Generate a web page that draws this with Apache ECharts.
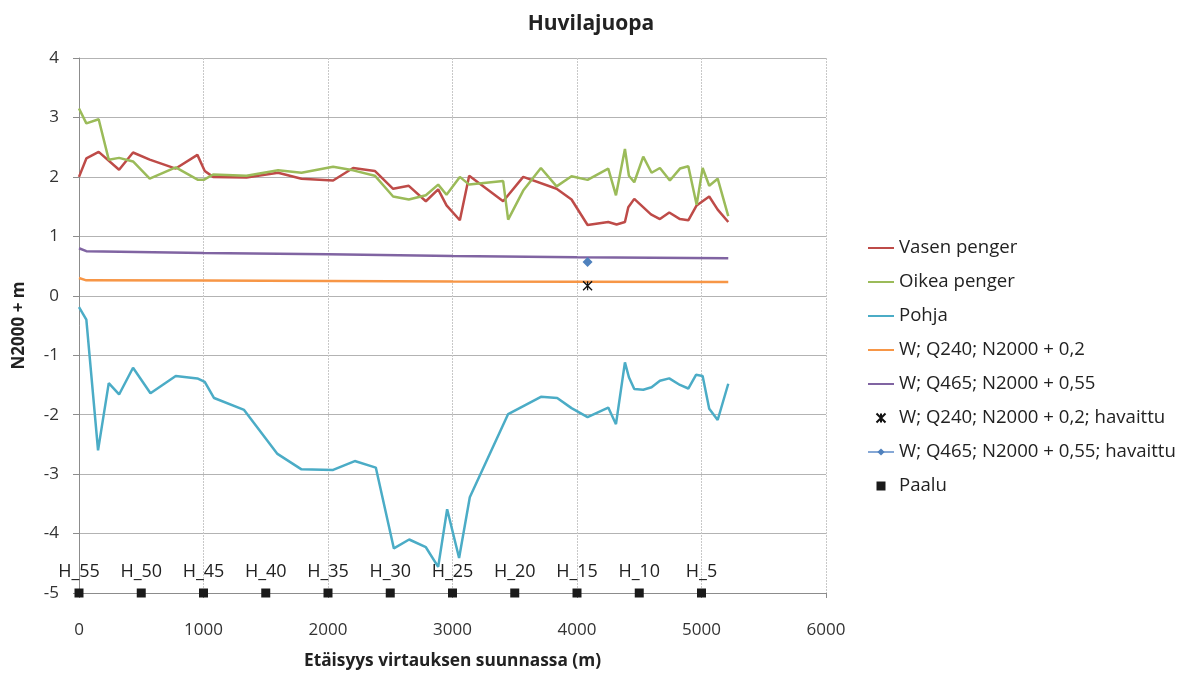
<!DOCTYPE html>
<html>
<head>
<meta charset="utf-8">
<script src="https://cdn.jsdelivr.net/npm/echarts@6/dist/echarts.min.js"></script>
<style>
  html, body { margin: 0; padding: 0; background: #fff; }
  #chart { width: 1182px; height: 673px; }
</style>
</head>
<body>
<div id="chart"></div>
<script>
// Left bank (Vasen penger): distance along flow (m) and crest level (N2000 + m)
const vasenDist = [0,59,158,322,434,568,777,951,1010,1077,1345,1599,1787,2041,2202,2376,2523,2649,2786,2885,2952,3059,3134,3407,3568,3836,3956,4085,4251,4318,4385,4412,4460,4594,4666,4741,4827,4894,4961,5062,5130,5215];
const vasenElev = [2.00,2.31,2.42,2.12,2.41,2.29,2.14,2.37,2.10,2.00,1.99,2.07,1.97,1.94,2.15,2.10,1.80,1.85,1.59,1.79,1.52,1.27,2.02,1.59,2.00,1.80,1.62,1.19,1.24,1.20,1.24,1.49,1.63,1.37,1.29,1.40,1.29,1.27,1.52,1.67,1.45,1.24];

// Right bank (Oikea penger)
const oikeaDist = [0,59,158,239,322,434,568,777,956,1002,1077,1345,1599,1787,2041,2202,2376,2523,2649,2786,2885,2952,3059,3134,3407,3447,3568,3710,3836,3956,4085,4251,4313,4385,4417,4460,4532,4599,4666,4746,4827,4894,4961,5009,5062,5130,5215];
const oikeaElev = [3.15,2.90,2.97,2.29,2.32,2.26,1.97,2.16,1.95,1.95,2.04,2.02,2.11,2.07,2.17,2.11,2.02,1.67,1.62,1.69,1.87,1.70,2.00,1.87,1.93,1.28,1.77,2.15,1.84,2.01,1.95,2.14,1.69,2.47,2.02,1.91,2.34,2.07,2.15,1.94,2.14,2.18,1.53,2.15,1.85,1.97,1.34];

// Channel bed (Pohja)
const pohjaDist = [0,59,153,239,322,434,574,777,951,1010,1085,1326,1594,1787,2041,2215,2384,2529,2652,2786,2885,2957,3053,3139,3447,3710,3841,3956,4085,4251,4313,4385,4417,4460,4532,4599,4666,4741,4827,4894,4956,5009,5062,5130,5215];
const pohjaElev = [-0.19,-0.40,-2.60,-1.47,-1.66,-1.21,-1.64,-1.35,-1.39,-1.45,-1.72,-1.92,-2.66,-2.92,-2.93,-2.78,-2.89,-4.25,-4.10,-4.23,-4.56,-3.59,-4.41,-3.39,-1.99,-1.70,-1.72,-1.89,-2.04,-1.88,-2.16,-1.12,-1.37,-1.57,-1.58,-1.54,-1.43,-1.39,-1.50,-1.56,-1.33,-1.35,-1.90,-2.09,-1.48];

// Computed water levels
const q240Dist = [0,59,1000,2000,3000,4000,5215];
const q240Elev = [0.30,0.26,0.255,0.25,0.24,0.235,0.23];
const q465Dist = [0,59,1000,2000,3000,4000,5215];
const q465Elev = [0.80,0.75,0.72,0.70,0.67,0.65,0.63];

// Observed water levels
const obs240 = [[4085, 0.17]];
const obs465 = [[4085, 0.57]];

// Chainage stakes (Paalu)
const paaluDist = [0,500,1000,1500,2000,2500,3000,3500,4000,4500,5000];
const paaluNames = ['H_55','H_50','H_45','H_40','H_35','H_30','H_25','H_20','H_15','H_10','H_5'];
const paaluLevel = -5;

// Axis ticks
const xMin = 0, xMax = 6000, xStep = 1000;
const yMin = -5, yMax = 4, yStep = 1;

const seriesNames = ['Vasen penger','Oikea penger','Pohja','W; Q240; N2000 + 0,2','W; Q465; N2000 + 0,55','W; Q240; N2000 + 0,2; havaittu','W; Q465; N2000 + 0,55; havaittu','Paalu'];

const zip = (xs, ys) => xs.map((x, i) => [x, ys[i]]);
const FONT = 'Open Sans';
const SQUARE = 'path://M0,0H10V10H0Z';
const ASTERISK = 'path://M0,0L10,10M10,0L0,10M5,0L5,10';

// Plain lines: transparent item colour keeps the legend icon a bare line
const lineSeries = (name, data, color) => ({
  name, type: 'line', data, symbol: 'circle', showSymbol: false,
  lineStyle: { color, width: 2.5 }, itemStyle: { color: 'rgba(0,0,0,0)' },
  z: 3
});

const chart = echarts.init(document.getElementById('chart'), null, { renderer: 'canvas' });
chart.setOption({
  backgroundColor: '#ffffff',
  animation: false,
  textStyle: { fontFamily: FONT },
  title: {
    text: 'Huvilajuopa', left: 'center', top: 9,
    textStyle: { fontFamily: FONT, fontSize: 21, fontWeight: 'bold', color: '#222' }
  },
  grid: { left: 79, right: 356, top: 58, bottom: 80, containLabel: false, outerBoundsMode: 'none' },
  legend: {
    orient: 'vertical', left: 867, top: 238, padding: 0,
    itemWidth: 26, itemHeight: 9, itemGap: 14,
    textStyle: { fontFamily: FONT, fontSize: 18.6, color: '#222', lineHeight: 20 },
    data: seriesNames
  },
  xAxis: {
    type: 'value', min: xMin, max: xMax, interval: xStep,
    name: 'Etäisyys virtauksen suunnassa (m)', nameLocation: 'middle', nameGap: 60,
    nameTextStyle: { fontFamily: FONT, fontSize: 17.3, fontWeight: 'bold', color: '#222' },
    axisLine: { onZero: false, lineStyle: { color: '#8c8c8c', width: 1 } },
    axisTick: { show: true, length: 5, lineStyle: { color: '#8c8c8c' } },
    axisLabel: { fontFamily: FONT, fontSize: 17, color: '#333', margin: 29, formatter: v => String(v) },
    splitLine: { show: true, lineStyle: { color: '#c8c8c8', type: [2, 1], width: 1 } }
  },
  yAxis: {
    type: 'value', min: yMin, max: yMax, interval: yStep,
    name: 'N2000 + m', nameLocation: 'middle', nameGap: 51, nameRotate: 90,
    nameTextStyle: { fontFamily: FONT, fontSize: 17, fontWeight: 'bold', color: '#222' },
    axisLine: { show: true, onZero: false, lineStyle: { color: '#8c8c8c', width: 1 } },
    axisTick: { show: true, length: 6, lineStyle: { color: '#8c8c8c' } },
    axisLabel: { fontFamily: FONT, fontSize: 17, color: '#333', margin: 20 },
    splitLine: { show: true, lineStyle: { color: '#b3b3b3', width: 1 } }
  },
  series: [
    lineSeries(seriesNames[0], zip(vasenDist, vasenElev), '#be4b48'),
    lineSeries(seriesNames[1], zip(oikeaDist, oikeaElev), '#9bbb59'),
    lineSeries(seriesNames[2], zip(pohjaDist, pohjaElev), '#4bacc6'),
    lineSeries(seriesNames[3], zip(q240Dist, q240Elev), '#f79646'),
    lineSeries(seriesNames[4], zip(q465Dist, q465Elev), '#8064a2'),
    {
      name: seriesNames[5], type: 'scatter', data: obs240,
      symbol: ASTERISK, symbolSize: 9,
      itemStyle: { color: 'rgba(0,0,0,0)', borderColor: '#111', borderWidth: 1.3, opacity: 1 },
      z: 5
    },
    {
      name: seriesNames[6], type: 'line', data: obs465,
      symbol: 'diamond', symbolSize: 10, showSymbol: true,
      lineStyle: { color: '#86a8d6', width: 2.5 },
      itemStyle: { color: '#4f81bd' },
      z: 5
    },
    {
      name: seriesNames[7], type: 'scatter', clip: false,
      data: paaluDist.map((d, i) => ({ value: [d, paaluLevel], name: paaluNames[i] })),
      symbol: SQUARE, symbolSize: 9,
      itemStyle: { color: '#1a1a1a', opacity: 1 },
      label: {
        show: true, position: 'top', distance: 8,
        formatter: p => p.name,
        fontFamily: FONT, fontSize: 18, color: '#222'
      },
      z: 6
    }
  ]
});
</script>
</body>
</html>
